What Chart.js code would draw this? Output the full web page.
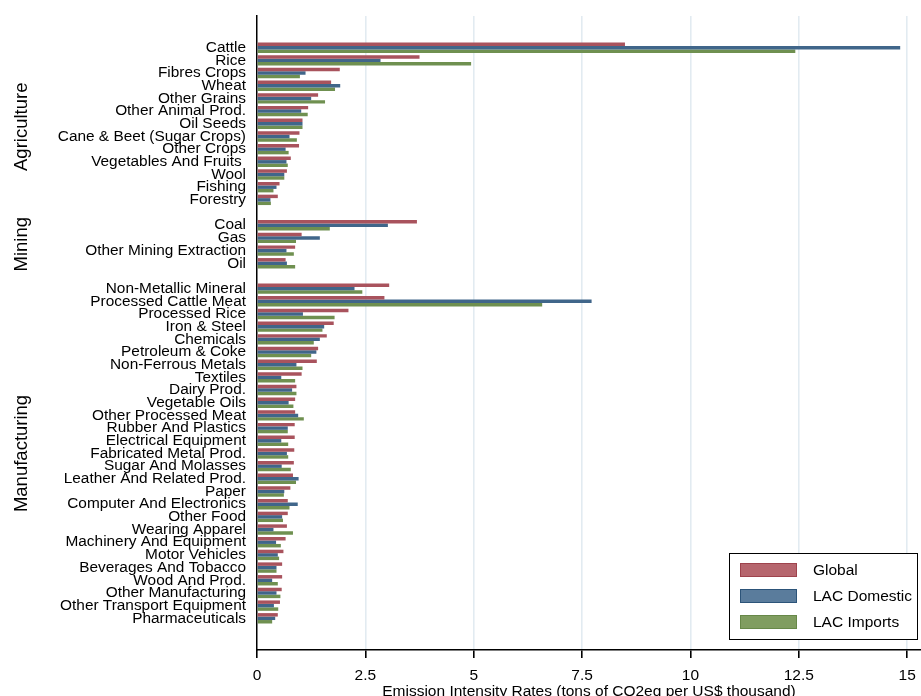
<!DOCTYPE html>
<html lang="en">
<head>
  <meta charset="UTF-8">
  <title>Emission Intensity Rates by Sector</title>
  <script src="https://cdn.jsdelivr.net/npm/chart.js"></script>
  <style>
    body { margin: 0; background: #fff; }
  </style>
</head>
<body>
  <canvas id="intensityChart" width="921" height="696"></canvas>
  <script>
    // sectors and their products (top to bottom)
    const agriculture = ['Cattle', 'Rice', 'Fibres Crops', 'Wheat', 'Other Grains', 'Other Animal Prod.',
      'Oil Seeds', 'Cane & Beet (Sugar Crops)', 'Other Crops', 'Vegetables And Fruits ', 'Wool', 'Fishing', 'Forestry'];
    const mining = ['Coal', 'Gas', 'Other Mining Extraction', 'Oil'];
    const manufacturing = ['Non-Metallic Mineral', 'Processed Cattle Meat', 'Processed Rice', 'Iron & Steel',
      'Chemicals', 'Petroleum & Coke', 'Non-Ferrous Metals', 'Textiles', 'Dairy Prod.', 'Vegetable Oils',
      'Other Processed Meat', 'Rubber And Plastics', 'Electrical Equipment', 'Fabricated Metal Prod.',
      'Sugar And Molasses', 'Leather And Related Prod.', 'Paper', 'Computer And Electronics', 'Other Food',
      'Wearing Apparel', 'Machinery And Equipment', 'Motor Vehicles', 'Beverages And Tobacco', 'Wood And Prod.',
      'Other Manufacturing', 'Other Transport Equipment', 'Pharmaceuticals'];
    const sectorNames = ['Agriculture', 'Mining', 'Manufacturing'];

    // tons of CO2eq per US$ thousand
    const globalAgri = [8.49, 3.75, 1.91, 1.71, 1.41, 1.18, 1.05, 0.98, 0.97, 0.78, 0.69, 0.52, 0.48];
    const domesticAgri = [14.84, 2.85, 1.12, 1.92, 1.25, 1.02, 1.05, 0.75, 0.66, 0.68, 0.63, 0.45, 0.31];
    const importsAgri = [12.42, 4.94, 0.99, 1.80, 1.57, 1.17, 1.05, 0.92, 0.73, 0.71, 0.63, 0.38, 0.32];

    const globalMining = [3.69, 1.03, 0.88, 0.66];
    const domesticMining = [3.02, 1.45, 0.68, 0.69];
    const importsMining = [1.68, 0.90, 0.85, 0.88];

    const globalManu = [3.05, 2.94, 2.11, 1.77, 1.61, 1.41, 1.38, 1.03, 0.91, 0.88, 0.88, 0.87, 0.87, 0.86,
      0.85, 0.83, 0.77, 0.71, 0.71, 0.69, 0.66, 0.61, 0.58, 0.58, 0.57, 0.53, 0.48];
    const domesticManu = [2.25, 7.72, 1.06, 1.55, 1.45, 1.37, 0.91, 0.56, 0.81, 0.73, 0.95, 0.71, 0.56, 0.69,
      0.57, 0.96, 0.63, 0.94, 0.58, 0.38, 0.44, 0.48, 0.45, 0.35, 0.45, 0.39, 0.42];
    const importsManu = [2.43, 6.58, 1.79, 1.51, 1.31, 1.25, 1.05, 0.88, 0.91, 0.84, 1.08, 0.71, 0.72, 0.72,
      0.78, 0.90, 0.62, 0.75, 0.60, 0.83, 0.55, 0.51, 0.45, 0.48, 0.54, 0.49, 0.35];

    const xTicks = [0, 2.5, 5, 7.5, 10, 12.5, 15];

    // two blank rows at the ends, one between sectors
    function padRows(a, b, c, blank) {
      return [blank, blank, ...a, blank, ...b, blank, ...c, blank, blank];
    }
    const labels = padRows(agriculture, mining, manufacturing, '');
    const groupRanges = [
      [2, 2 + agriculture.length - 1],
      [3 + agriculture.length, 3 + agriculture.length + mining.length - 1],
      [4 + agriculture.length + mining.length, 4 + agriculture.length + mining.length + manufacturing.length - 1]
    ];

    const FONT = "'Liberation Sans', Arial, sans-serif";

    const seriesStyle = [
      { label: 'Global', bar: '#a9535d', swatch: '#b6666e', edge: '#9e434d' },
      { label: 'LAC Domestic', bar: '#40668a', swatch: '#5a7c9c', edge: '#2c5479' },
      { label: 'LAC Imports', bar: '#6f9050', swatch: '#809d60', edge: '#678848' }
    ];

    // rotated sector titles + legend box inside the plot
    const extras = {
      id: 'extras',
      afterDraw(chart) {
        const ctx = chart.ctx;
        const yScale = chart.scales.y;
        const area = chart.chartArea;
        ctx.save();
        ctx.fillStyle = '#000';
        ctx.font = '18.5px ' + FONT;
        ctx.textAlign = 'center';
        ctx.textBaseline = 'middle';
        groupRanges.forEach((r, i) => {
          const yMid = (yScale.getPixelForValue(r[0]) + yScale.getPixelForValue(r[1])) / 2;
          ctx.save();
          ctx.translate(22, yMid + (i === 0 ? 3 : 0));
          ctx.rotate(-Math.PI / 2);
          ctx.fillText(sectorNames[i], 0, 0);
          ctx.restore();
        });

        const bx = area.right - 192, by = area.bottom - 97, bw = 188, bh = 86;
        ctx.fillStyle = '#fff';
        ctx.fillRect(bx, by, bw, bh);
        ctx.strokeStyle = '#000';
        ctx.lineWidth = 1;
        ctx.strokeRect(bx + 0.5, by + 0.5, bw, bh);
        ctx.font = '15.5px ' + FONT;
        ctx.textAlign = 'left';
        chart.data.datasets.forEach((ds, i) => {
          const st = seriesStyle[i];
          const cy = by + 17 + i * 26;
          ctx.fillStyle = st.swatch;
          ctx.fillRect(bx + 11, cy - 7, 57, 14);
          ctx.strokeStyle = st.edge;
          ctx.strokeRect(bx + 11.5, cy - 6.5, 56, 13);
          ctx.fillStyle = '#000';
          ctx.fillText(ds.label, bx + 84, cy + 1);
        });
        ctx.restore();
      }
    };

    const ctx = document.getElementById('intensityChart').getContext('2d');
    new Chart(ctx, {
      type: 'bar',
      data: {
        labels: labels,
        datasets: [
          { label: seriesStyle[0].label, data: padRows(globalAgri, globalMining, globalManu, null), backgroundColor: seriesStyle[0].bar },
          { label: seriesStyle[1].label, data: padRows(domesticAgri, domesticMining, domesticManu, null), backgroundColor: seriesStyle[1].bar },
          { label: seriesStyle[2].label, data: padRows(importsAgri, importsMining, importsManu, null), backgroundColor: seriesStyle[2].bar }
        ]
      },
      options: {
        indexAxis: 'y',
        responsive: false,
        animation: false,
        categoryPercentage: 0.82,
        barPercentage: 1.0,
        layout: { padding: { top: 16, right: 0, left: 0, bottom: 0 } },
        plugins: {
          legend: { display: false },
          tooltip: { enabled: false }
        },
        scales: {
          y: {
            type: 'category',
            offset: true,
            grid: { display: false, drawTicks: false },
            border: { display: true, color: '#000', width: 1.5 },
            ticks: {
              autoSkip: false,
              color: '#000',
              padding: 11,
              font: { family: FONT, size: 15.4 }
            },
            afterFit(scale) {
              scale.width = 257;
              scale.paddingTop = 0;
              scale.paddingBottom = 0;
            }
          },
          x: {
            type: 'linear',
            position: 'bottom',
            min: 0,
            max: 15.32,
            afterBuildTicks(scale) {
              scale.ticks = xTicks.map(v => ({ value: v }));
            },
            grid: {
              color: c => (c.tick && c.tick.value === 0) ? 'rgba(0,0,0,0)' : '#e2ebf1',
              lineWidth: 1.6,
              drawTicks: true,
              tickColor: '#000',
              tickLength: 8
            },
            border: { display: true, color: '#000', width: 1.5 },
            ticks: {
              color: '#000',
              padding: 8,
              font: { family: FONT, size: 15.5 },
              callback: v => String(v)
            },
            title: {
              display: true,
              text: 'Emission Intensity Rates (tons of CO2eq per US$ thousand)',
              color: '#000',
              font: { family: FONT, size: 15.5 },
              padding: { top: 0, bottom: -5 }
            },
            afterFit(scale) {
              scale.height = 46;
              scale.paddingLeft = 0;
              scale.paddingRight = 0;
            }
          }
        }
      },
      plugins: [extras]
    });
  </script>
</body>
</html>
